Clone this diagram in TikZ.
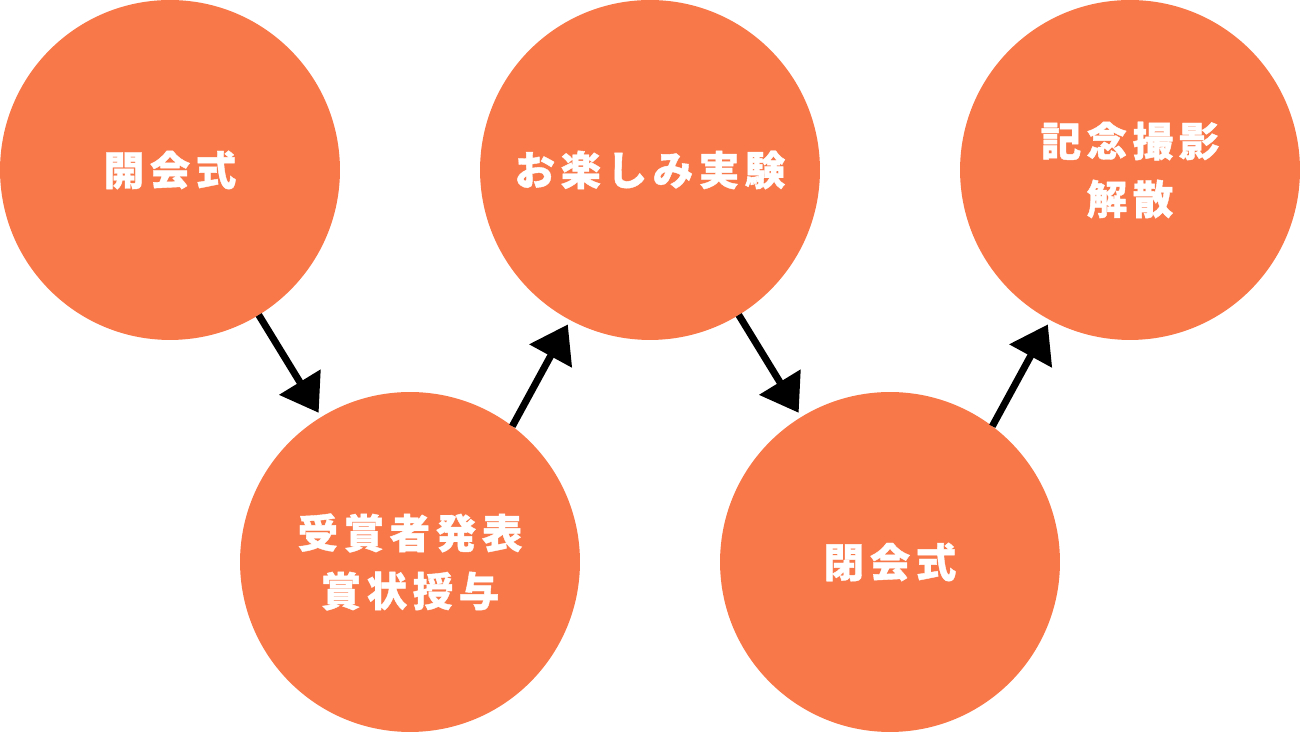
\documentclass[tikz,border=0pt]{standalone}
\usepackage{fontspec}
\usepackage{tikz}
\usetikzlibrary{arrows.meta}
\newfontfamily\jpfont[LetterSpace=14,FakeBold=1]{Noto Sans CJK JP}
\definecolor{stepcol}{RGB}{249,120,74}

\begin{document}
\begin{tikzpicture}[x=0.02cm,y=0.02cm,
        stage/.style={circle,fill=stepcol,minimum size=6.8cm,inner sep=0pt,outer sep=0pt,
            text=white,align=center,font=\jpfont\bfseries\fontsize{23}{33}\selectfont},
        flow/.style={-{Triangle[length=0.72cm,width=0.94cm]},line width=0.14cm,shorten >=0.1cm}]
        \useasboundingbox(0,0)rectangle(1300,732);

        \node[stage](open)at(170,562){開会式};
        \node[stage](award)at(410,170){受賞者発表\\賞状授与};
        \node[stage](show)at(650,562){お楽しみ実験};
        \node[stage](close)at(890,170){閉会式};
        \node[stage](photo)at(1130,562){記念撮影\\解散};

        \draw[flow](open)--(award);
        \draw[flow](award.53)--(show.242);
        \draw[flow](show)--(close);
        \draw[flow](close.53)--(photo.242);
    \end{tikzpicture}
\end{document}
